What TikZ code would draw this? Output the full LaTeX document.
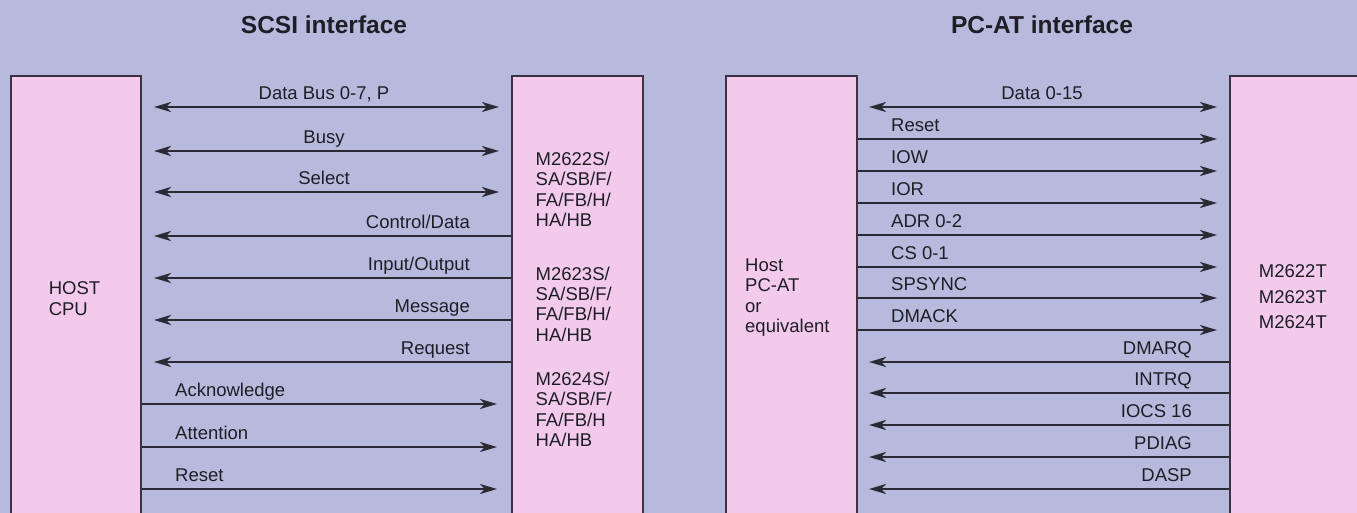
\documentclass[tikz,border=0pt]{standalone}
\usepackage{fontspec}
\setmainfont{Liberation Sans}
\usetikzlibrary{arrows.meta}
\definecolor{bgc}{HTML}{B7BADD}
\definecolor{pinkc}{HTML}{F3CAEC}
\definecolor{edgec}{HTML}{3B3342}
\definecolor{linec}{HTML}{2A2A34}
\definecolor{textc}{HTML}{1E1E26}
\tikzset{
  tip/.tip={Stealth[length=17pt,width=10pt,inset=5pt]},
  box/.style={draw=edgec, fill=pinkc, line width=2pt, rectangle, inner sep=0pt, anchor=north west},
  sig/.style={draw=linec, line width=2.5pt, -tip},
  bisig/.style={draw=linec, line width=2.5pt, tip-tip},
  lbl/.style={text=textc, font=\fontsize{18.5}{20.4}\selectfont, inner sep=0pt},
  ttl/.style={text=textc, font=\fontsize{24.5}{28}\selectfont\bfseries, inner sep=0pt, anchor=base},
}
\begin{document}
\begin{tikzpicture}[x=1pt,y=-1pt]
\useasboundingbox (0,0) rectangle (1357,513);
\clip (0,0) rectangle (1357,513);
\fill[bgc] (0,0) rectangle (1357,513);
% titles
\node[ttl] (t1) at (324,33.8) {SCSI interface};
\node[ttl] (t2) at (1042,33.8) {PC-AT interface};
% boxes
\node[box, minimum width=130.5pt, minimum height=460pt] (lb) at (9.5,75) {};
\node[box, minimum width=131pt, minimum height=460pt] (rb) at (511,75) {};
\node[box, minimum width=131pt, minimum height=460pt] (pl) at (725,75) {};
\node[box, minimum width=180pt, minimum height=460pt] (pr) at (1229,75) {};
% box texts
\node[lbl, anchor=west, align=left, font=\fontsize{18.5}{21}\selectfont] (hostcpu) at (48.6,298.5) {HOST\\CPU};
\node[lbl, anchor=west, align=left] (m22s) at (535.5,189.5) {M2622S/\\SA/SB/F/\\FA/FB/H/\\HA/HB};
\node[lbl, anchor=west, align=left] (m23s) at (535.5,304) {M2623S/\\SA/SB/F/\\FA/FB/H/\\HA/HB};
\node[lbl, anchor=west, align=left] (m24s) at (535.5,409.5) {M2624S/\\SA/SB/F/\\FA/FB/H\\HA/HB};
\node[lbl, anchor=west, align=left] (hostpc) at (745,297.5) {Host\\PC-AT\\or\\equivalent};
\node[lbl, anchor=east, align=right, font=\fontsize{18.5}{25.5}\selectfont] (mt) at (1327,296.7) {M2622T\\M2623T\\M2624T};
% SCSI bidirectional
\foreach \yy/\tx in {107/{Data Bus 0-7, P},151/{Busy},192/{Select}}{
  \draw[bisig, shorten <=12pt, shorten >=12pt] (lb.east |- 0,\yy) -- (rb.west |- 0,\yy);
  \node[lbl, anchor=base] at (324,\yy-7.3) {\tx};
}
% SCSI target -> host
\foreach \yy/\tx in {236/{Control/Data},278/{Input/Output},320/{Message},362/{Request}}{
  \draw[sig, shorten >=12pt] (rb.west |- 0,\yy) -- (lb.east |- 0,\yy);
  \node[lbl, anchor=base east] at (470,\yy-7.3) {\tx};
}
% SCSI host -> target
\foreach \yy/\tx in {404/{Acknowledge},447/{Attention},489/{Reset}}{
  \draw[sig, shorten >=14pt] (lb.east |- 0,\yy) -- (rb.west |- 0,\yy);
  \node[lbl, anchor=base west] at (175,\yy-7.3) {\tx};
}
% PC-AT bidirectional
\draw[bisig, shorten <=11pt, shorten >=12pt] (pl.east |- 0,107) -- (pr.west |- 0,107);
\node[lbl, anchor=base] (d015) at (1042,99.7) {Data 0-15};
% PC-AT host -> drive
\foreach \yy/\tx in {139/{Reset},171/{IOW},203/{IOR},235/{ADR 0-2},267/{CS 0-1},298/{SPSYNC},330/{DMACK}}{
  \draw[sig, shorten >=12pt] (pl.east |- 0,\yy) -- (pr.west |- 0,\yy);
  \node[lbl, anchor=base west] at (891,\yy-7.3) {\tx};
}
% PC-AT drive -> host
\foreach \yy/\tx in {362/{DMARQ},393/{INTRQ},425/{IOCS 16},457/{PDIAG},489/{DASP}}{
  \draw[sig, shorten >=11pt] (pr.west |- 0,\yy) -- (pl.east |- 0,\yy);
  \node[lbl, anchor=base east] at (1192,\yy-7.3) {\tx};
}
\end{tikzpicture}
\end{document}
